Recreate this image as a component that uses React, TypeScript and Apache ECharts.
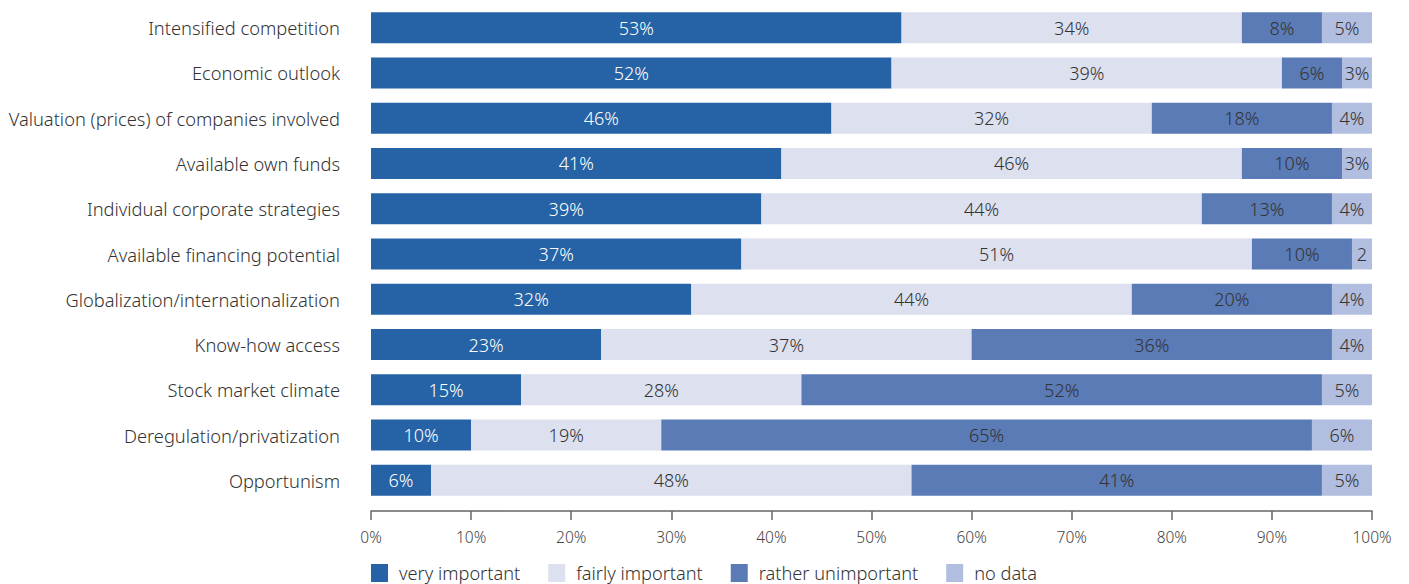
import React, { useEffect, useRef } from "react";
import * as echarts from "echarts";

const categories = [
  "Intensified competition",
  "Economic outlook",
  "Valuation (prices) of companies involved",
  "Available own funds",
  "Individual corporate strategies",
  "Available financing potential",
  "Globalization/internationalization",
  "Know-how access",
  "Stock market climate",
  "Deregulation/privatization",
  "Opportunism",
];

const veryImportant = [53, 52, 46, 41, 39, 37, 32, 23, 15, 10, 6];
const fairlyImportant = [34, 39, 32, 46, 44, 51, 44, 37, 28, 19, 48];
const ratherUnimportant = [8, 6, 18, 10, 13, 10, 20, 36, 52, 65, 41];
const noData = [5, 3, 4, 3, 4, 2, 4, 4, 5, 6, 5];

const seriesNames = ["very important", "fairly important", "rather unimportant", "no data"];
const seriesColors = ["#2563a6", "#dde0ee", "#5a7bb6", "#b1bedf"];
const labelColors = ["#ffffff", "#333333", "#333333", "#333333"];

const FONT = "'Noto Sans', sans-serif";
const W = 300;

export default function App() {
  const ref = useRef<HTMLDivElement>(null);
  useEffect(() => {
    document.body.style.margin = "0";
    const chart = echarts.init(ref.current!, null, { renderer: "svg" });
    const datasets = [veryImportant, fairlyImportant, ratherUnimportant, noData];
    chart.setOption({
      animation: false,
      textStyle: { fontFamily: FONT, fontWeight: W },
      grid: { left: 371, right: 37, top: 5, height: 498 },
      legend: {
        left: 371,
        top: 564,
        padding: 0,
        icon: "rect",
        itemWidth: 17,
        itemHeight: 18,
        itemGap: 28,
        textStyle: { fontSize: 18.2, color: "#333", fontFamily: FONT, fontWeight: W, padding: [0, 0, 0, 6] },
        data: seriesNames,
      },
      xAxis: {
        type: "value",
        min: 0,
        max: 100,
        interval: 10,
        offset: 8,
        axisLine: { show: true, lineStyle: { color: "#666", width: 1.5 } },
        axisTick: { show: true, length: 9, lineStyle: { color: "#666", width: 1.5 } },
        splitLine: { show: false },
        axisLabel: {
          formatter: "{value}%",
          fontSize: 15.5,
          color: "#444",
          margin: 18,
          fontFamily: FONT,
          fontWeight: W,
        },
      },
      yAxis: {
        type: "category",
        inverse: true,
        data: categories,
        axisLine: { show: false },
        axisTick: { show: false },
        axisLabel: {
          fontSize: 18.3,
          color: "#333",
          margin: 31,
          fontFamily: FONT,
          fontWeight: W,
          padding: [8, 0, 0, 0],
        },
      },
      series: datasets.map((d, i) => ({
        name: seriesNames[i],
        type: "bar",
        stack: "total",
        barWidth: 31,
        data: d,
        itemStyle: { color: seriesColors[i] },
        label: {
          show: true,
          position: "inside",
          color: labelColors[i],
          fontSize: 18,
          fontFamily: FONT,
          fontWeight: W,
          formatter: (p: any) => (p.value < 3 ? `${p.value}` : `${p.value}%`),
        },
      })),
    });
    return () => chart.dispose();
  }, []);
  return (
    <div
      ref={ref}
      style={{ position: "absolute", left: 0, top: 0, width: 1409, height: 584 }}
    />
  );
}
